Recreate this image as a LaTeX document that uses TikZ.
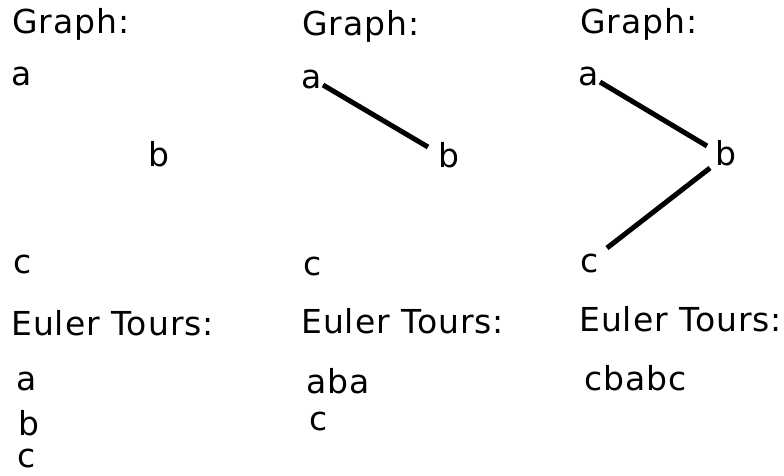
\documentclass[tikz,border=0pt]{standalone}
\usepackage{fontspec}
\setmainfont[LetterSpace=3]{DejaVu Sans}
\begin{document}
\begin{tikzpicture}[x=1pt,y=-1pt,
  lbl/.style={anchor=base west,inner sep=0pt,font=\fontsize{33}{39}\selectfont},
  edge/.style={line width=5pt,line cap=butt}]
\useasboundingbox (0,0) rectangle (784,475);
% Panel 1
\node[lbl] (g1) at (12,33) {Graph:};
\node[lbl] (a1) at (11,85) {a};
\node[lbl] (b1) at (148,166) {b};
\node[lbl] (c1) at (13,273) {c};
\node[lbl] (e1) at (11,335) {Euler Tours:};
\node[lbl] (t1a) at (16,390) {a};
\node[lbl] (t1b) at (18,435) {b};
\node[lbl] (t1c) at (17,467) {c};
% Panel 2
\node[lbl] (g2) at (302,35) {Graph:};
\node[lbl] (a2) at (301,88) {a};
\node[lbl] (b2) at (438,167) {b};
\node[lbl] (c2) at (303,275) {c};
\node[lbl] (e2) at (301,333) {Euler Tours:};
\node[lbl] (t2a) at (306,393) {aba};
\node[lbl] (t2b) at (309,430) {c};
\coordinate (a2e) at (323,85);
\coordinate (b2e) at (428,147);
\draw[edge] (a2e) -- (b2e);
% Panel 3
\node[lbl] (g3) at (580,33) {Graph:};
\node[lbl] (a3) at (578,85) {a};
\node[lbl] (b3) at (715,165) {b};
\node[lbl] (c3) at (580,272) {c};
\node[lbl] (e3) at (579,331) {Euler Tours:};
\node[lbl] (t3a) at (584,390) {cbabc};
\coordinate (a3e) at (600,82);
\coordinate (b3e) at (707,146);
\coordinate (b3f) at (710,168);
\coordinate (c3e) at (607,248);
\draw[edge] (a3e) -- (b3e);
\draw[edge] (b3f) -- (c3e);
\end{tikzpicture}
\end{document}
